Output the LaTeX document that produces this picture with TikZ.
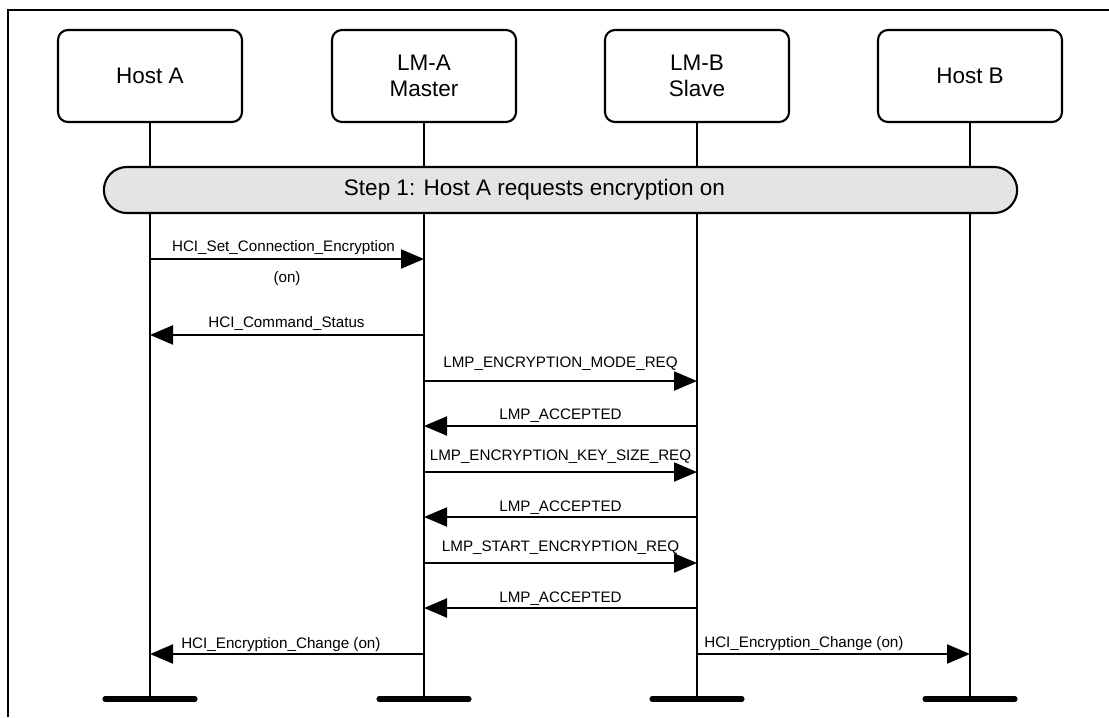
\documentclass[tikz,border=0pt]{standalone}
\usepackage{fontspec}
\setmainfont{Liberation Sans}
\usetikzlibrary{arrows.meta, calc}
\definecolor{stepgray}{RGB}{228, 228, 228}
\tikzset{
  entity/.style={draw, rounded corners=0.25cm, line width=1.5pt,
                 minimum width=4.6cm, minimum height=2.3cm, align=center,
                 font=\fontsize{16}{18.5}\selectfont},
  stepbar/.style={draw, fill=stepgray, rounded corners=0.575cm, line width=1.5pt,
                  minimum width=22.825cm, minimum height=1.15cm},
  steptext/.style={font=\fontsize{16}{19}\selectfont},
  life/.style={line width=1.5pt},
  endbar/.style={line width=3.6pt, line cap=round},
  msg/.style={-{Triangle[length=5.75mm, width=4.75mm]}, line width=1.5pt},
  lbl/.style={font=\fontsize{10.8}{13}\selectfont, anchor=base, inner sep=0pt},
}

\begin{document}
\begin{tikzpicture}[x=0.025cm, y=-0.025cm]
  \useasboundingbox (0,0) rectangle (1109,717);
  \draw[line width=1.5pt] (8,717) -- (8,10) -- (1109,10);

  % entities
  \node[entity] (hostA) at (150, 76) {Host A};
  \node[entity] (lmA) at (424, 76) {LM-A\\Master};
  \node[entity] (lmB) at (697, 76) {LM-B\\Slave};
  \node[entity] (hostB) at (970, 76) {Host B};

  % lifelines
  \coordinate (endA) at (150, 699);
  \coordinate (endLA) at (424, 699);
  \coordinate (endLB) at (697, 699);
  \coordinate (endB) at (970, 699);
  \draw[life] (hostA.south) -- (endA);
  \draw[life] (lmA.south) -- (endLA);
  \draw[life] (lmB.south) -- (endLB);
  \draw[life] (hostB.south) -- (endB);
  \foreach \e in {endA, endLA, endLB, endB}
    \draw[endbar] ($(\e)+(-45,0)$) -- ($(\e)+(45,0)$);

  \node[stepbar, label={[steptext, xshift=-0.65cm]center:Step 1: Host A requests encryption on}]
    (step1) at (560.5, 190) {};

  % message rows
  \coordinate (r1) at (0, 259);
  \coordinate (r2) at (0, 335);
  \coordinate (r3) at (0, 381);
  \coordinate (r4) at (0, 426);
  \coordinate (r5) at (0, 472);
  \coordinate (r6) at (0, 517);
  \coordinate (r7) at (0, 563);
  \coordinate (r8) at (0, 608);
  \coordinate (r9) at (0, 654);

  \draw[msg] (hostA |- r1) -- (lmA |- r1);
  \node[lbl] (m1) at (283.5, 251) {HCI\_Set\_Connection\_Encryption};
  \node[lbl] (m1on) at (287, 282) {(on)};

  \draw[msg] (lmA |- r2) -- (hostA |- r2);
  \node[lbl] (m2) at (286.5, 327) {HCI\_Command\_Status};

  \draw[msg] (lmA |- r3) -- (lmB |- r3);
  \node[lbl] (m3) at (560.5, 367) {LMP\_ENCRYPTION\_MODE\_REQ};

  \draw[msg] (lmB |- r4) -- (lmA |- r4);
  \node[lbl] (m4) at (560.5, 419) {LMP\_ACCEPTED};

  \draw[msg] (lmA |- r5) -- (lmB |- r5);
  \node[lbl] (m5) at (560.5, 460) {LMP\_ENCRYPTION\_KEY\_SIZE\_REQ};

  \draw[msg] (lmB |- r6) -- (lmA |- r6);
  \node[lbl] (m6) at (560.5, 511) {LMP\_ACCEPTED};

  \draw[msg] (lmA |- r7) -- (lmB |- r7);
  \node[lbl] (m7) at (560.5, 551) {LMP\_START\_ENCRYPTION\_REQ};

  \draw[msg] (lmB |- r8) -- (lmA |- r8);
  \node[lbl] (m8) at (560.5, 602) {LMP\_ACCEPTED};

  \draw[msg] (lmA |- r9) -- (hostA |- r9);
  \node[lbl, anchor=base west] (m9) at (181, 648) {HCI\_Encryption\_Change (on)};
  \draw[msg] (lmB |- r9) -- (hostB |- r9);
  \node[lbl, anchor=base west] (m10) at (704, 647) {HCI\_Encryption\_Change (on)};
\end{tikzpicture}
\end{document}
